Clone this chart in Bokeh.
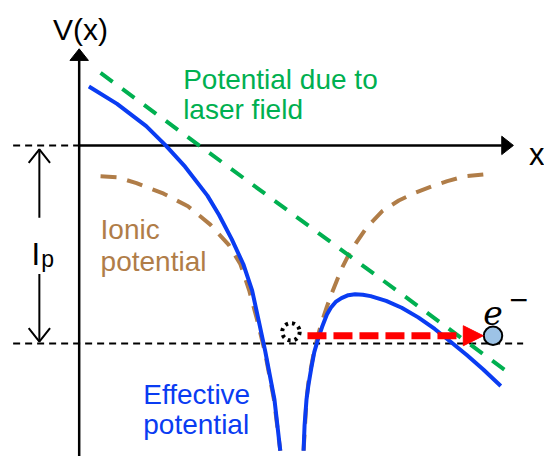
from bokeh.plotting import figure
from bokeh.models import Range1d, Arrow, NormalHead
from bokeh.core.properties import value
from bokeh.embed import file_html
from bokeh.resources import INLINE

# ---- data (schematic units: x from the origin, V from the continuum level) ----
blue_left_x = [10, 39, 69, 89, 109, 132, 144, 157, 169, 178, 184.5, 191.5, 201, 207]
blue_left_v = [61, 43, 20, 0, -22, -52, -72, -97, -123, -150, -180, -213, -263, -316]
blue_right_x = [231, 232, 234, 236, 239, 242, 246, 250, 255, 259, 264, 270, 277, 284, 292,
                300, 316, 332, 349, 366, 382, 399, 416, 434]
blue_right_v = [-316, -290, -263, -248, -230, -214, -200, -188, -175, -168, -162, -158, -155,
                -154, -154.5, -156, -161, -168, -178, -190, -203, -217, -232, -249]
ionic_left_x = [22, 39, 59, 87, 112, 135, 154, 166, 175, 183, 191, 200.5, 207]
ionic_left_v = [-32, -33, -39, -50, -63, -82, -103, -123, -150, -180, -213, -263, -316]
ionic_right_x = [231, 234, 236, 239, 242, 246, 250, 255, 260, 266, 271, 277, 285, 296,
                 312, 329, 346, 364, 379, 397, 416]
ionic_right_v = [-316, -263, -245, -228, -212, -196, -182, -167, -153, -138, -126, -114,
                 -101, -85, -68, -57, -49, -42, -37, -32, -30]
laser_x = [22, 439]
laser_v = [75, -233]

ip_level = -205          # bound-state energy (-Ip)
tunnel_v = -197          # height of tunnelling arrow
tunnel_start = 235
tunnel_end = 416
bound_electron = (218, -193)
free_electron = (426, -197)
x_axis_end = 447
v_axis_top = 100
v_axis_bottom = -322
dash_left = -68
dash_right = 457
ip_arrow_x = -41

BLUE = "#0a3cf2"
BROWN = "#b07d48"
GREEN = "#00b050"
RED = "#ff0000"
FONT = value("Liberation Sans")

p = figure(width=544, height=456, x_range=Range1d(-81, 479), y_range=Range1d(-322, 150),
           output_backend="svg", toolbar_location=None, min_border=0,
           x_axis_location=None, y_axis_location=None)
p.grid.visible = False
p.outline_line_color = None
p.background_fill_color = "white"

# reference dashed levels
p.line([dash_left, 0], [0, 0], line_color="black", line_width=2, line_dash="7 5")
p.line([dash_left, dash_right], [ip_level, ip_level], line_color="black", line_width=2, line_dash="7 5")

# axes with arrow heads
p.line([0, x_axis_end - 12], [0, 0], line_color="black", line_width=2.5)
p.line([0, 0], [v_axis_bottom, v_axis_top - 12], line_color="black", line_width=2.5)
p.patch([x_axis_end, x_axis_end - 12, x_axis_end - 12], [0, 9.5, -9.5], color="black")
p.patch([0, -9.5, 9.5], [v_axis_top, v_axis_top - 12, v_axis_top - 12], color="black")

# Ip double arrow
p.line([ip_arrow_x, ip_arrow_x], [-75, -4], line_color="black", line_width=2)
p.line([ip_arrow_x, ip_arrow_x], [-133, ip_level + 2], line_color="black", line_width=2)
p.multi_line([[ip_arrow_x - 11, ip_arrow_x, ip_arrow_x + 11],
              [ip_arrow_x - 11, ip_arrow_x, ip_arrow_x + 11]],
             [[-18, -4, -18], [ip_level + 16, ip_level + 2, ip_level + 16]],
             line_color="black", line_width=2)

# potentials
p.line(ionic_left_x, ionic_left_v, line_color=BROWN, line_width=4, line_dash="16 11")
p.line(ionic_right_x, ionic_right_v, line_color=BROWN, line_width=4, line_dash="16 11")
p.line(laser_x, laser_v, line_color=GREEN, line_width=4, line_dash="15 12")
p.line(blue_left_x, blue_left_v, line_color=BLUE, line_width=4)
p.line(blue_right_x, blue_right_v, line_color=BLUE, line_width=4)

# tunnelling arrow
p.add_layout(Arrow(x_start=tunnel_start, y_start=tunnel_v, x_end=tunnel_end, y_end=tunnel_v,
                   line_color=RED, line_width=7, line_dash="19 7",
                   end=NormalHead(size=20, fill_color=RED, line_color=RED, line_width=1)))

# electrons
p.circle(x=[bound_electron[0]], y=[bound_electron[1]], radius=9, fill_color=None,
         line_color="black", line_width=4, line_dash="3 4")
p.circle(x=[free_electron[0]], y=[free_electron[1]], radius=9.5, fill_color="#9dc3e6",
         line_color="black", line_width=2)

# texts
def txt(x, y, s, color, size, font=FONT, style="normal"):
    p.text(x=[x], y=[y], text=[s], text_color=color, text_font=font,
           text_font_size=size, text_baseline="alphabetic", text_align="left",
           text_font_style=style)

txt(107, 68, "Potential due to", GREEN, "28px")
txt(107, 37, "laser field", GREEN, "28px")
txt(22, -87, "Ionic", BROWN, "28px")
txt(22, -120, "potential", BROWN, "28px")
txt(66, -258, "Effective", BLUE, "28px")
txt(66, -289, "potential", BLUE, "28px")
txt(-27, 120, "V(x)", "black", "30px")
txt(463, -9, "x", "black", "31px")
txt(-49, -113, "I", "black", "31px")
txt(-39, -118, "p", "black", "23px")
txt(416, -173, "e", "black", "33px", font=value("DejaVu Serif"), style="italic")
txt(442, -159, "\u2212", "black", "25px", font=value("DejaVu Sans"))

open("out.html", "w").write(file_html(p, INLINE))
